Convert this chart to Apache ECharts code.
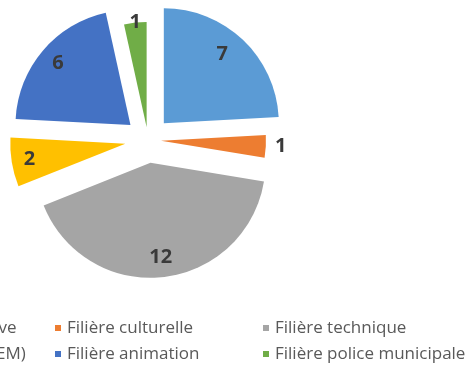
<!DOCTYPE html>
<html>
<head>
<meta charset="utf-8">
<script src="https://cdn.jsdelivr.net/npm/echarts@6/dist/echarts.min.js"></script>
<style>
  html, body { margin: 0; padding: 0; background: #fff; }
  #chart { width: 471px; height: 376px; }
</style>
</head>
<body>
<div id="chart"></div>
<script>
// Effectifs par filière
const categories = [
  'Filière administrative',
  'Filière culturelle',
  'Filière technique',
  'Filière sociale (ATSEM)',
  'Filière animation',
  'Filière police municipale'
];
const values = [7, 1, 12, 2, 6, 1];
const colors = ['#5B9BD5', '#ED7D31', '#A5A5A5', '#FFC000', '#4472C4', '#70AD47'];

// the two thin slices are drawn a little shorter and pulled out less
const nearSlices = new Set([1, 5]);

const center = [148, 140];
const R = 115, R_NEAR = 105;
const FAR = 23, NEAR = 13;

function sliceSeries(radius, offset, keep) {
  return {
    type: 'pie',
    center: center,
    radius: [0, radius],
    startAngle: 90,
    clockwise: true,
    selectedMode: 'multiple',
    selectedOffset: offset,
    silent: true,
    animation: false,
    avoidLabelOverlap: false,
    label: { show: false },
    labelLine: { show: false },
    emphasis: { disabled: true },
    itemStyle: { borderWidth: 0 },
    data: categories.map((name, i) => ({
      name: name,
      value: values[i],
      selected: keep(i),
      itemStyle: { color: keep(i) ? colors[i] : 'rgba(0,0,0,0)' }
    }))
  };
}

// per-slice shifts of the value labels, applied as asymmetric padding
// (centred text moves by half the padding difference)
const labelNudge = { 0: [-7, 0], 1: [15, 4], 3: [-2, 5], 5: [0, 4] };
function nudgePadding(d) {
  const dx = d[0], dy = d[1];
  return [dy > 0 ? 2 * dy : 0, dx < 0 ? -2 * dx : 0, dy < 0 ? -2 * dy : 0, dx > 0 ? 2 * dx : 0];
}

const labelSeries = {
  type: 'pie',
  center: center,
  radius: [69, R],
  startAngle: 90,
  clockwise: true,
  selectedMode: 'multiple',
  selectedOffset: FAR,
  silent: true,
  animation: false,
  avoidLabelOverlap: false,
  labelLine: { show: false },
  emphasis: { disabled: true },
  itemStyle: { color: 'rgba(0,0,0,0)', borderWidth: 0 },
  label: {
    show: true,
    position: 'inside',
    formatter: '{c}',
    color: '#3a3a3a',
    fontFamily: 'Open Sans',
    fontWeight: 'bold',
    fontSize: 20
  },
  data: categories.map((name, i) => ({
    name: name,
    value: values[i],
    selected: true,
    label: labelNudge[i] ? { padding: nudgePadding(labelNudge[i]) } : {}
  }))
};

// legend laid out in three columns of two rows
const columns = [[0, 3], [1, 4], [2, 5]];
const columnLeft = [-166, 50, 258];
const legends = columns.map((idx, c) => ({
  orient: 'vertical',
  left: columnLeft[c],
  top: 313,
  itemWidth: 6,
  itemHeight: 6,
  itemGap: 6,
  icon: 'rect',
  selectedMode: false,
  textStyle: {
    color: '#595959',
    fontFamily: 'Open Sans',
    fontSize: 17,
    lineHeight: 20,
    padding: [0, 0, 0, 1]
  },
  data: idx.map(i => ({ name: categories[i], itemStyle: { color: colors[i] } }))
}));

const chart = echarts.init(document.getElementById('chart'));
chart.setOption({
  backgroundColor: '#ffffff',
  animation: false,
  legend: legends,
  series: [
    sliceSeries(R, FAR, i => !nearSlices.has(i)),
    sliceSeries(R_NEAR, NEAR, i => nearSlices.has(i)),
    labelSeries
  ]
});
</script>
</body>
</html>
